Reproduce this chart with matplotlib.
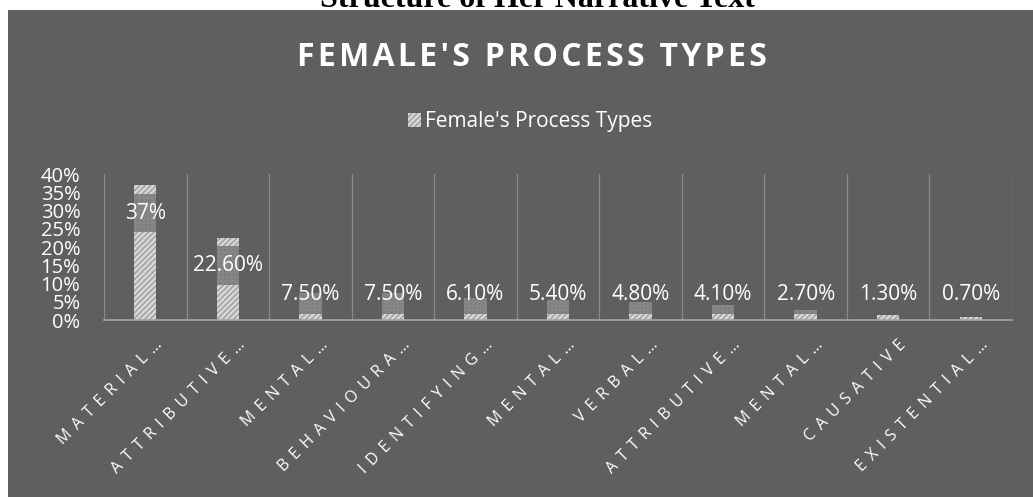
import matplotlib.pyplot as plt
from matplotlib.patches import Rectangle
from matplotlib.transforms import ScaledTranslation
import numpy as np

plt.rcParams['hatch.linewidth'] = 1.6

# Data
categories = ['MATERIAL…', 'ATTRIBUTIVE…', 'MENTAL…', 'BEHAVIOURA…', 'IDENTIFYING…',
              'MENTAL…', 'VERBAL…', 'ATTRIBUTIVE…', 'MENTAL…', 'CAUSATIVE', 'EXISTENTIAL…']
values = [37.0, 22.6, 7.5, 7.5, 6.1, 5.4, 4.8, 4.1, 2.7, 1.3, 0.7]
labels = ['37%', '22.60%', '7.50%', '7.50%', '6.10%', '5.40%', '4.80%', '4.10%', '2.70%', '1.30%', '0.70%']
series_name = "Female's Process Types"

bg = '#5f5f5f'
fam = ['Open Sans', 'DejaVu Sans']
fig = plt.figure(figsize=(10.33, 4.97), dpi=100, facecolor='white')
fig.patches.append(Rectangle((8 / 1033, 0), 1, 1 - 10 / 497, transform=fig.transFigure,
                             facecolor=bg, edgecolor='none', zorder=-5))

# page heading cut off at the top
fig.text(537 / 1033, 1 - 7 / 497, 'Structure of Her Narrative Text', ha='center', va='baseline',
         fontsize=23, fontweight='bold', family='Liberation Serif', color='black', zorder=-6)

ax = fig.add_axes([104 / 1033, 1 - 320 / 497, 908 / 1033, 146 / 497])
ax.set_facecolor('none')
x = np.arange(len(values))
ax.bar(x, values, width=0.27, facecolor='#a4a4a4', edgecolor='#dadada', hatch='//////',
       linewidth=0, zorder=2)

# darker patch behind the data labels
for xi, v, lab in zip(x, values, labels):
    ly = max(v - 7.7, 6.9)
    lo = max(ly - 5.3, 0)
    hi = min(ly + 5.3, v)
    if hi > lo:
        ax.bar(xi, hi - lo, bottom=lo, width=0.27, facecolor='#7c7c7c', edgecolor='#868686',
               hatch='++++', linewidth=0, zorder=3)
    ax.text(xi, ly, lab, ha='center', va='center', color='white', fontsize=15,
            family='Open Sans', zorder=4)

ax.set_xlim(-0.5, len(values) - 0.5)
ax.set_ylim(0, 40)
ax.set_yticks(np.arange(0, 41, 5))
ax.set_yticklabels([f'{t}%' for t in range(0, 41, 5)], fontsize=14.5, color='white', family='Open Sans')
for b in np.arange(-0.5, len(values), 1):
    ax.axvline(b, color='#8a8a8a', linewidth=0.9, zorder=1)
for s in ['top', 'right', 'left']:
    ax.spines[s].set_visible(False)
ax.spines['bottom'].set_color('#a6a6a6')
ax.spines['bottom'].set_linewidth(1.2)
ax.tick_params(axis='both', length=0, pad=2)
ax.tick_params(axis='y', pad=17)

spaced = [' \u2009'.join(c) for c in categories]
ax.set_xticks(x)
ax.set_xticklabels(spaced, rotation=45, ha='right', va='center', rotation_mode='anchor',
                   fontsize=11.5, color='white', family=fam)
for t in ax.get_xticklabels():
    t.set_transform(t.get_transform() + ScaledTranslation(0.15, -0.2, fig.dpi_scale_trans))

fig.text(532 / 1033, 1 - 57 / 497, '\u200a'.join("FEMALE'S PROCESS TYPES"), ha='center', va='center',
         fontsize=23, fontweight='bold', color='white', family=fam)

ax.legend([Rectangle((0, 0), 1, 1, facecolor='#a4a4a4', edgecolor='#dadada', hatch='//////', linewidth=0)],
          [series_name], loc='center', bbox_to_anchor=(530 / 1033, 1 - 122 / 497), bbox_transform=fig.transFigure,
          frameon=False, labelcolor='white', prop={'family': 'Open Sans', 'size': 15},
          handlelength=0.65, handleheight=0.65, handletextpad=0.2)

fig.savefig('out.png', dpi=100, facecolor='white')
